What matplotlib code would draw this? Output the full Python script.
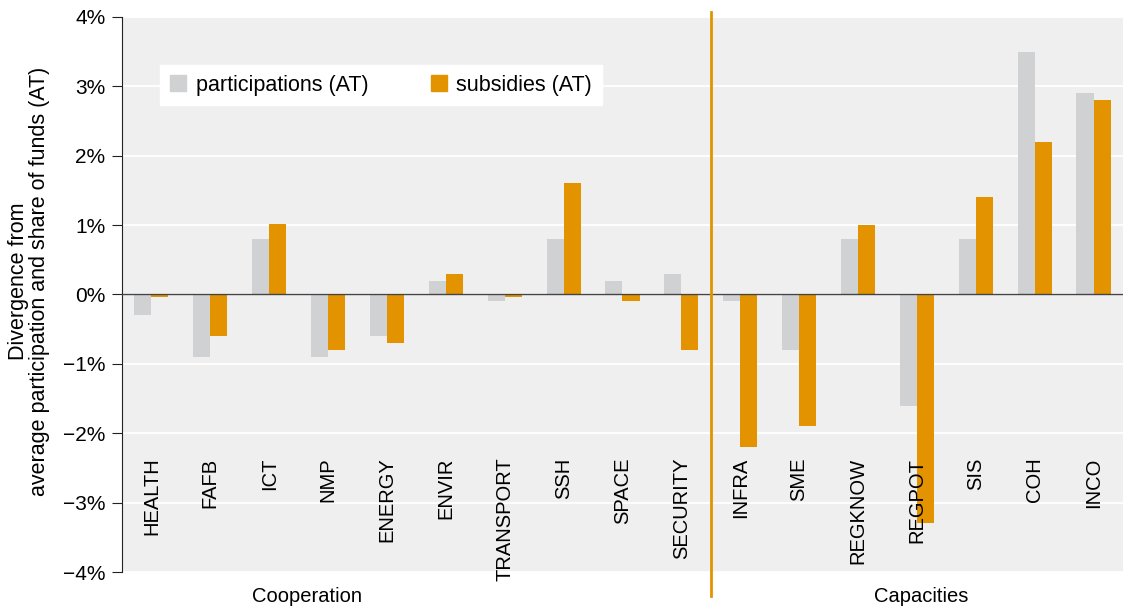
import numpy as np
import matplotlib.pyplot as plt
from matplotlib.patches import Patch

plt.rcParams['font.family'] = ['Liberation Sans', 'DejaVu Sans']

categories = ['HEALTH', 'FAFB', 'ICT', 'NMP', 'ENERGY', 'ENVIR', 'TRANSPORT', 'SSH',
              'SPACE', 'SECURITY', 'INFRA', 'SME', 'REGKNOW', 'REGPOT', 'SIS', 'COH', 'INCO']
participations = [-0.3, -0.9, 0.8, -0.9, -0.6, 0.2, -0.1, 0.8, 0.2, 0.3,
                  -0.1, -0.8, 0.8, -1.6, 0.8, 3.5, 2.9]
subsidies = [-0.03, -0.6, 1.02, -0.8, -0.7, 0.3, -0.03, 1.6, -0.1, -0.8,
             -2.2, -1.9, 1.0, -3.3, 1.4, 2.2, 2.8]
groups = ['Cooperation', 'Capacities']
group_sep = 9.5

grey = '#d0d1d3'
orange = '#e39300'

fig = plt.figure(figsize=(11.23, 6.15), dpi=100)
ax = fig.add_axes([0.1086, 0.0699, 0.8914, 0.9025])
ax.set_facecolor('#efefef')

x = np.arange(len(categories))
w = 0.29
ax.set_xlim(-0.5, len(categories) - 0.5)
ax.set_ylim(-4, 4)
ax.set_yticks(np.arange(-4, 5, 1))
ax.set_yticklabels([f'{v}%'.replace('-', '\u2212') for v in range(-4, 5)], fontsize=15)
ax.yaxis.grid(True, color='white', linewidth=1.3)
ax.set_axisbelow(True)

ax.bar(x - w / 2, participations, w, color=grey, zorder=2)
ax.bar(x + w / 2, subsidies, w, color=orange, zorder=3)
ax.axhline(0, color='#444444', linewidth=1, zorder=4)

# category labels drawn inside the plot area
for xi, c in zip(x, categories):
    ax.text(xi, -2.35, c, rotation=90, ha='center', va='top', fontsize=14.5, zorder=5)

ax.set_xticks([])
for s in ['top', 'right', 'bottom']:
    ax.spines[s].set_visible(False)
ax.spines['left'].set_color('#222222')
ax.tick_params(axis='y', length=7, color='#222222', pad=5)

ax.plot([group_sep, group_sep], [4.07, -4.35], color=orange, linewidth=2, clip_on=False, zorder=6)
ax.text(0.185, -0.045, groups[0], transform=ax.transAxes, ha='center', va='center', fontsize=14.5)
ax.text(0.798, -0.045, groups[1], transform=ax.transAxes, ha='center', va='center', fontsize=14.5)

fig.text(0.026, 0.543, 'Divergence from\naverage participation and share of funds (AT)',
         rotation=90, ha='center', va='center', fontsize=15.5, linespacing=1.0)

handles = [Patch(color=grey, label='participations (AT)'),
           Patch(color=orange, label='subsidies (AT)')]
leg = ax.legend(handles=handles, ncol=2, loc='upper left', bbox_to_anchor=(0.038, 0.9135),
                frameon=True, fancybox=False, fontsize=15.5, handlelength=0.75, handleheight=0.75,
                handletextpad=0.45, columnspacing=2.9, borderpad=0.45, borderaxespad=0)
leg.get_frame().set_facecolor('white')
leg.get_frame().set_edgecolor('white')
leg.get_frame().set_alpha(1)

plt.savefig('out.png', dpi=100)
